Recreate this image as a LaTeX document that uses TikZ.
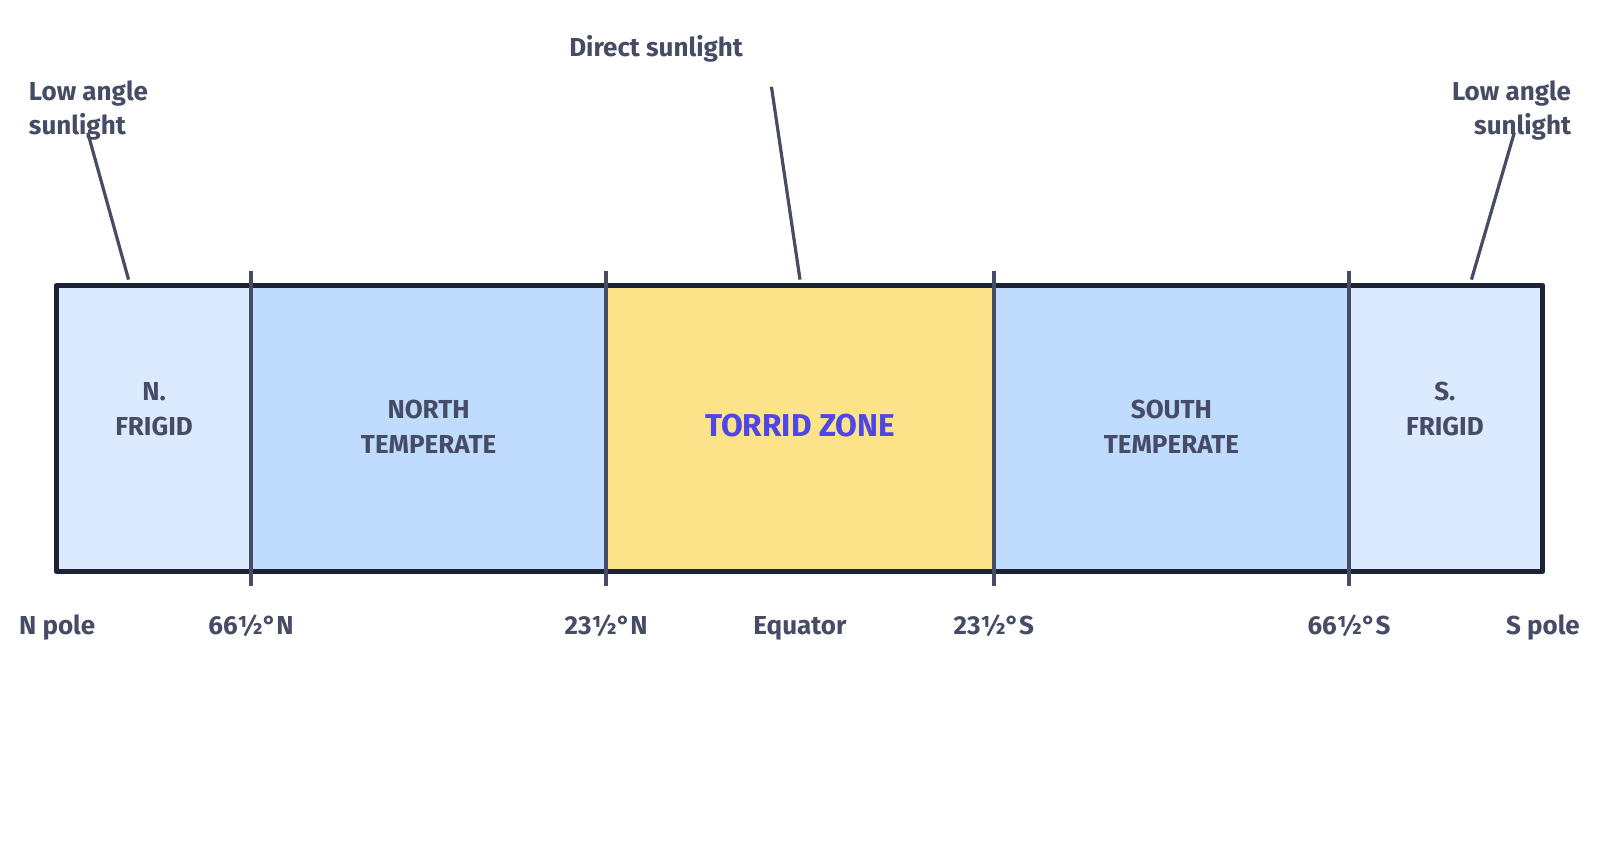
\documentclass[tikz,border=0pt]{standalone}
\usepackage{fontspec}
\setmainfont{Fira Sans}
\definecolor{ink}{HTML}{464C66}
\definecolor{frame}{HTML}{1E2235}
\definecolor{frigid}{HTML}{DBEAFE}
\definecolor{temperate}{HTML}{BFDBFE}
\definecolor{torrid}{HTML}{FCE38A}
\definecolor{indigo}{HTML}{4F46E5}
\begin{document}
\begin{tikzpicture}[x=0.5102pt,y=-0.5102pt,
  zonebox/.style={draw=none,inner sep=0pt,minimum height=142.9pt},
  zonetext/.style={inner sep=0pt,align=center,
    font=\fontsize{13}{17.3}\selectfont\bfseries,text=ink},
  lbl/.style={font=\fontsize{13}{16.8}\selectfont\bfseries,text=ink,inner sep=0pt},
  axis/.style={lbl,anchor=base},
  divider/.style={draw=ink,line width=2pt},
  leader/.style={draw=ink,line width=1.6pt}]
\fill[white] (0,0) rectangle (1568,841);
% zone fills
\node[zonebox,fill=frigid,minimum width=97.4pt] (nf) at (150.5,420) {};
\node[zonebox,fill=temperate,minimum width=177.5pt] (nt) at (420,420) {};
\node[zonebox,fill=torrid,minimum width=193.9pt] (tz) at (784,420) {};
\node[zonebox,fill=temperate,minimum width=177.5pt] (st) at (1148,420) {};
\node[zonebox,fill=frigid,minimum width=96.9pt] (sf) at (1417,420) {};
% zone texts
\node[zonetext] (nft) at (151,401) {N.\\FRIGID};
\node[zonetext] (ntt) at (420,418) {NORTH\\TEMPERATE};
\node[zonetext,text=indigo,font=\fontsize{15.8}{17}\selectfont\bfseries] (tzt) at (784,417) {TORRID ZONE};
\node[zonetext] (stt) at (1148,418) {SOUTH\\TEMPERATE};
\node[zonetext] (sft) at (1416,401) {S.\\FRIGID};
% frame
\draw[frame,line width=2.5pt,line join=round] (55,280) rectangle (1512,560);
% dividers
\foreach \n/\x in {d1/246,d2/594,d3/974,d4/1322}{
  \coordinate (\n t) at (\x,266);
  \coordinate (\n b) at (\x,574);
  \draw[divider] (\n t) -- (\n b);
}
% bottom labels
\node[axis] (np) at (56,622) {N pole};
\node[axis] (l66n) at (246,622) {66½°N};
\node[axis] (l23n) at (594,622) {23½°N};
\node[axis] (eq) at (784,622) {Equator};
\node[axis] (l23s) at (974,622) {23½°S};
\node[axis] (l66s) at (1322,622) {66½°S};
\node[axis] (sp) at (1512,622) {S pole};
% top labels
\node[lbl,align=left,anchor=north west] (lowl) at (28,79) {Low angle\\sunlight};
\node[lbl,anchor=center] (direct) at (643,48) {Direct sunlight};
\node[lbl,align=right,anchor=north east] (lowr) at (1540,79) {Low angle\\sunlight};
% leaders
\coordinate (a1) at (86,130);  \coordinate (b1) at (126,274);
\coordinate (a2) at (756,85);  \coordinate (b2) at (784,274);
\coordinate (a3) at (1484,130); \coordinate (b3) at (1442,274);
\draw[leader] (a1) -- (b1);
\draw[leader] (a2) -- (b2);
\draw[leader] (a3) -- (b3);
\pgfresetboundingbox
\path[use as bounding box] (0,0) rectangle (1568,841);
\end{tikzpicture}
\end{document}
